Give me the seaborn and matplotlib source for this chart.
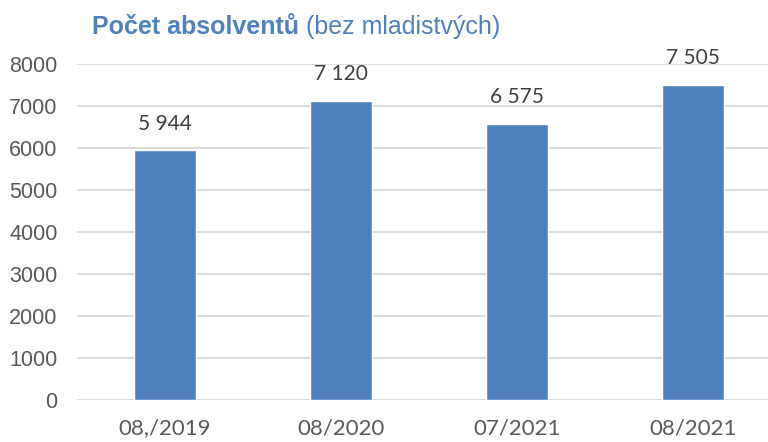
import matplotlib
matplotlib.use("Agg")
import matplotlib.pyplot as plt
import seaborn as sns
import pandas as pd

# data
periods = ["08,/2019", "08/2020", "07/2021", "08/2021"]
graduates = [5944, 7120, 6575, 7505]
value_labels = ["5 944", "7 120", "6 575", "7 505"]

BAR_COLOR = "#4F81BD"
TITLE_COLOR = "#4F81BD"

sns.set_theme(style="white")
plt.rcParams["font.family"] = ["Liberation Sans", "DejaVu Sans"]

df = pd.DataFrame({"period": periods, "graduates": graduates})

fig = plt.figure(figsize=(7.68, 4.42), dpi=100)
ax = fig.add_axes([77 / 768, 1 - 400 / 442, 691 / 768, 336 / 442])

sns.barplot(data=df, x="period", y="graduates", color=BAR_COLOR,
            width=0.355, saturation=1, ax=ax, zorder=3)

ax.set_ylim(0, 8000)
ax.set_xlim(-0.5, -0.5 + 691 / 176)
ax.set_yticks(range(0, 8001, 1000))
ax.yaxis.grid(True, color="#D9D9D9", linewidth=1.3, zorder=0)
ax.set_axisbelow(True)
for s in ax.spines.values():
    s.set_visible(False)
ax.tick_params(axis="both", length=0, labelcolor="#595959")
ax.tick_params(axis="y", pad=14, labelsize=15.5)
ax.tick_params(axis="x", pad=13)
for t in ax.get_xticklabels():
    t.set_family(["Lato", "DejaVu Sans"])
    t.set_fontsize(16)
ax.set_xlabel("")
ax.set_ylabel("")

for i, (v, lab) in enumerate(zip(graduates, value_labels)):
    ax.annotate(lab, xy=(i, v), xytext=(0, 12), textcoords="offset points",
                ha="center", va="bottom", fontsize=15, color="#404040",
                family=["Lato", "DejaVu Sans"])

t1 = fig.text(92 / 768, 1 - 27 / 442, "Počet absolventů", fontsize=18,
              fontweight="bold", color=TITLE_COLOR, va="center", ha="left")
fig.canvas.draw()
ax.annotate(" (bez mladistvých)", xy=(1, 0), xycoords=t1, va="bottom",
            ha="left", fontsize=18, color=TITLE_COLOR)

fig.savefig("out.png", dpi=100)
